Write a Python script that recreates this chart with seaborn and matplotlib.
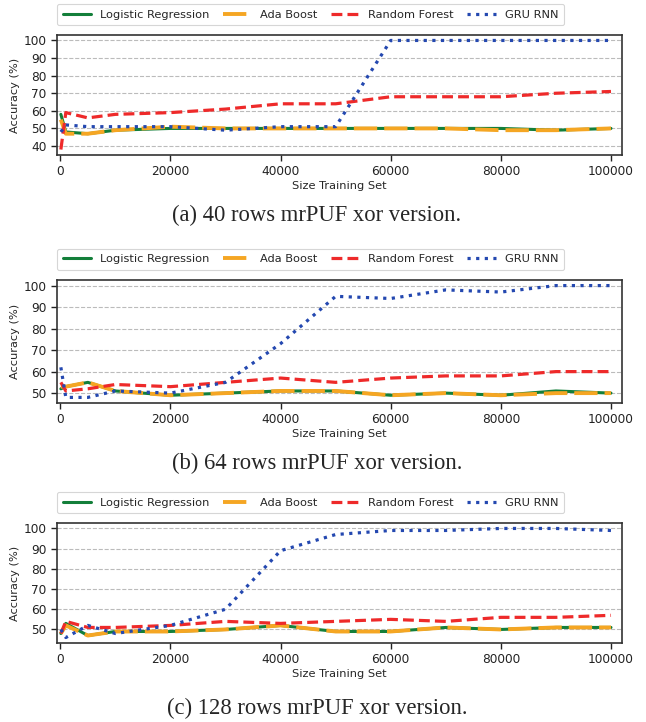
import matplotlib
matplotlib.use("Agg")
import matplotlib.pyplot as plt
import seaborn as sns
import pandas as pd

# ---- data ----
sizes = [100, 1000, 5000, 10000, 20000, 30000, 40000, 50000, 60000, 70000, 80000, 90000, 100000]
series_names = ["Logistic Regression", "Ada Boost", "Random Forest", "GRU RNN"]

lr40 = [58, 48, 47, 49, 50, 50, 50, 50, 50, 50, 50, 49, 50]
ada40 = [55, 47, 47, 49, 51, 50, 50, 50, 50, 50, 49, 49, 50]
rf40 = [38, 59, 56, 58, 59, 61, 64, 64, 68, 68, 68, 70, 71]
gru40 = [48, 52, 51, 51, 51, 49, 51, 51, 100, 100, 100, 100, 100]

lr64 = [52, 53, 55, 51, 49, 50, 51, 51, 49, 50, 49, 51, 50]
ada64 = [53, 53, 55, 51, 49, 50, 51, 51, 49, 50, 49, 50, 50]
rf64 = [55, 51, 52, 54, 53, 55, 57, 55, 57, 58, 58, 60, 60]
gru64 = [62, 48, 48, 51, 50, 55, 73, 95, 94, 98, 97, 100, 100]

lr128 = [48, 53, 47, 49, 49, 50, 52, 49, 49, 51, 50, 51, 51]
ada128 = [48, 52, 47, 49, 49, 50, 52, 49, 49, 51, 50, 51, 51]
rf128 = [48, 54, 51, 51, 52, 54, 53, 54, 55, 54, 56, 56, 57]
gru128 = [50, 46, 52, 48, 52, 60, 89, 97, 99, 99, 100, 100, 99]

captions = ["(a) 40 rows mrPUF xor version.",
            "(b) 64 rows mrPUF xor version.",
            "(c) 128 rows mrPUF xor version."]
xticks = [0, 20000, 40000, 60000, 80000, 100000]
yticks_list = [[40, 50, 60, 70, 80, 90, 100],
               [50, 60, 70, 80, 90, 100],
               [50, 60, 70, 80, 90, 100]]

panels = [[lr40, ada40, rf40, gru40],
          [lr64, ada64, rf64, gru64],
          [lr128, ada128, rf128, gru128]]

# ---- style ----
sns.set_style("ticks")
plt.rcParams["font.family"] = ["DejaVu Sans"]

colors = ["#137f3a", "#f5a623", "#ee2a2a", "#2448b0"]
styles = ["-", (0, (6, 1.8)), (0, (3.4, 1.6)), (0, (1, 1.7))]
widths = [2.2, 2.8, 2.3, 2.3]

W, H = 646, 722
fig = plt.figure(figsize=(W / 100, H / 100), dpi=100)

# axes pixel boxes: (top, bottom)
boxes = [(35, 155), (280, 403), (523, 643)]
cap_y = [215, 463, 708]
left_px, right_px = 57, 622

for i, (top, bot) in enumerate(boxes):
    ax = fig.add_axes([left_px / W, 1 - bot / H, (right_px - left_px) / W, (bot - top) / H])
    vals = panels[i]
    for name, v, c, ls, lw in zip(series_names, vals, colors, styles, widths):
        df = pd.DataFrame({"size": sizes, "acc": v})
        sns.lineplot(data=df, x="size", y="acc", ax=ax, color=c, linestyle=ls,
                     linewidth=lw, label=name, legend=False)
    ax.set_xlim(-600, 102000)
    ax.set_xticks(xticks)
    ax.set_yticks(yticks_list[i])
    ax.tick_params(labelsize=8.7, length=4, width=1, colors="#222222")
    ax.set_xlabel("Size Training Set", fontsize=8.2, labelpad=2)
    ax.set_ylabel("Accuracy (%)", fontsize=8.2, labelpad=2.5)
    ax.yaxis.grid(True, linestyle="--", color="#bbbbbb", linewidth=0.8)
    ax.set_axisbelow(True)
    for s in ax.spines.values():
        s.set_color("#333333")
        s.set_linewidth(1.2)
    handles, labels = ax.get_legend_handles_labels()
    leg = ax.legend(handles, labels, ncol=4, fontsize=8.2, loc="lower left",
                    bbox_to_anchor=(0.0, 1.08), frameon=True, handlelength=2.5,
                    columnspacing=1.15, borderaxespad=0, fancybox=True,
                    borderpad=0.5)
    leg.get_frame().set_edgecolor("#cccccc")
    leg.get_frame().set_linewidth(0.8)
    fig.text(317 / W, 1 - cap_y[i] / H, captions[i],
             ha="center", va="center", fontsize=16.3, family="Liberation Serif")

fig.savefig("out.png", dpi=100)
